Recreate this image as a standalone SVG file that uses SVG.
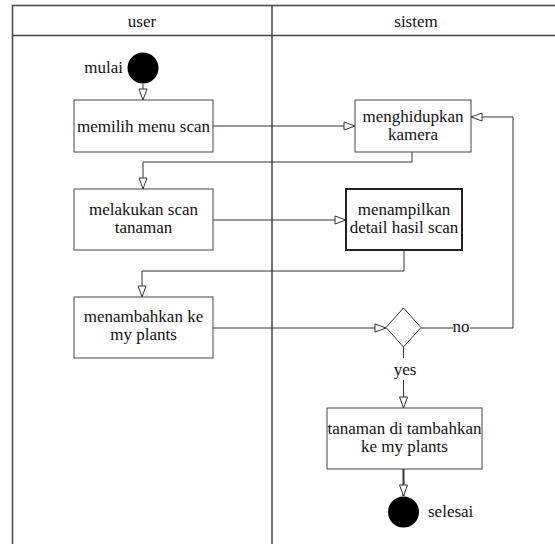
<svg xmlns="http://www.w3.org/2000/svg" width="555" height="544" viewBox="0 0 555 544">
<style>
.t{font-family:'Liberation Serif','Times New Roman',Times,serif;font-size:17px;fill:#111;text-anchor:middle}
.lane{stroke:#444;stroke-width:1.5;fill:none}
.box{fill:#fff;stroke:#444;stroke-width:1}
.box2{fill:#fff;stroke:#222;stroke-width:2}
.edge{fill:none;stroke:#333;stroke-width:1;marker-end:url(#tri)}
.plain{fill:none;stroke:#333;stroke-width:1}
</style>
<defs>
<marker id="tri" markerWidth="13" markerHeight="10" refX="12" refY="5" orient="auto" markerUnits="userSpaceOnUse">
<path d="M1,1 L12,5 L1,9 Z" fill="#fff" stroke="#333" stroke-width="1"/>
</marker>
</defs>
<rect width="555" height="544" fill="#fff"/>
<g class="t" font-family="'Liberation Serif', 'Times New Roman', serif">
<g id="swimlanes">
<path class="lane" d="M12.5,544 V5.5 H556 M12.5,35.5 H556 M272,5.5 V544"/>
<text x="142" y="27">user</text>
<text x="416" y="27">sistem</text>
</g>
<g id="connectors">
<path class="edge" d="M143,84 V100"/>
<path class="edge" d="M213,126 H355"/>
<path class="edge" d="M412,152 V162 H143 V189"/>
<path class="edge" d="M213,220 H346"/>
<path class="edge" d="M404,250 V271 H142 V297"/>
<path class="edge" d="M213,328 H386"/>
<path class="plain" d="M421,328 H453 M470,328 H513 V117"/>
<path class="edge" d="M513,117 H471"/>
<path class="plain" d="M403.5,347 V358"/>
<path class="edge" d="M403.5,380 V408"/>
<path d="M403.5,469 V496" fill="none" stroke="#333" stroke-width="2" marker-end="url(#tri)"/>
<text x="461" y="332">no</text>
<text x="405" y="375">yes</text>
</g>
<g id="start">
<circle cx="143" cy="68" r="15.5" fill="#000"/>
<text x="123" y="73" text-anchor="end" style="text-anchor:end">mulai</text>
</g>
<g id="memilih">
<rect class="box" x="74" y="100" width="139" height="52"/>
<text x="143.5" y="132">memilih menu scan</text>
</g>
<g id="menghidupkan">
<rect class="box" x="355" y="100" width="116" height="52"/>
<text x="413" y="122">menghidupkan</text>
<text x="413" y="140">kamera</text>
</g>
<g id="melakukan">
<rect class="box" x="74" y="189" width="139" height="61"/>
<text x="143.5" y="215">melakukan scan</text>
<text x="143.5" y="233">tanaman</text>
</g>
<g id="menampilkan">
<rect class="box2" x="346" y="189" width="116" height="61"/>
<text x="404" y="215">menampilkan</text>
<text x="404" y="233">detail hasil scan</text>
</g>
<g id="menambahkan">
<rect class="box" x="74" y="297" width="139" height="61"/>
<text x="143.5" y="322">menambahkan ke</text>
<text x="143.5" y="340">my plants</text>
</g>
<g id="decision">
<path d="M403.5,308 L421,327.5 L403.5,347 L386,327.5 Z" fill="#fff" stroke="#333" stroke-width="1"/>
</g>
<g id="tanaman">
<rect class="box" x="327" y="408" width="155" height="61"/>
<text x="404.5" y="434">tanaman di tambahkan</text>
<text x="404.5" y="452">ke my plants</text>
</g>
<g id="end">
<circle cx="403.5" cy="512" r="15.5" fill="#000"/>
<text x="428" y="517" text-anchor="start" style="text-anchor:start">selesai</text>
</g>
</g>
</svg>
